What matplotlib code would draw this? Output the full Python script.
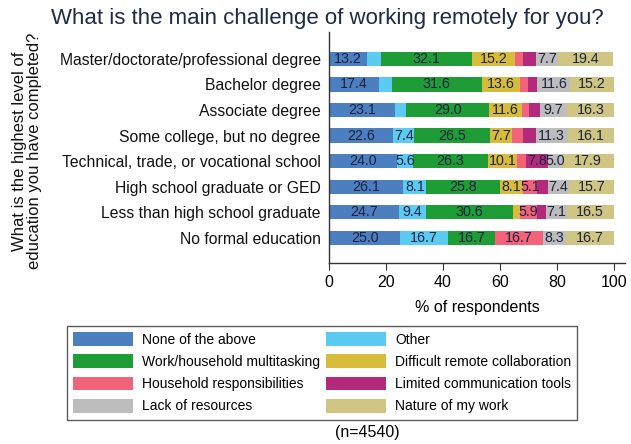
import numpy as np
import matplotlib
matplotlib.use('Agg')
import matplotlib.pyplot as plt
from matplotlib.patches import Patch

plt.rcParams['font.family'] = ['Liberation Sans', 'DejaVu Sans']

# ---- data ----
education = [
    'Master/doctorate/professional degree',
    'Bachelor degree',
    'Associate degree',
    'Some college, but no degree',
    'Technical, trade, or vocational school',
    'High school graduate or GED',
    'Less than high school graduate',
    'No formal education',
]
challenges = [
    'None of the above', 'Other', 'Work/household multitasking',
    'Difficult remote collaboration', 'Household responsibilities',
    'Limited communication tools', 'Lack of resources', 'Nature of my work',
]
none_above = [13.2, 17.4, 23.1, 22.6, 24.0, 26.1, 24.7, 25.0]
other = [4.9, 4.6, 4.1, 7.4, 5.6, 8.1, 9.4, 16.7]
multitask = [32.1, 31.6, 29.0, 26.5, 26.3, 25.8, 30.6, 16.7]
collab = [15.2, 13.6, 11.6, 7.7, 10.1, 8.1, 2.4, 0.0]
household = [2.8, 2.8, 2.3, 4.0, 3.3, 5.1, 5.9, 16.7]
comm_tools = [4.6, 3.2, 3.9, 4.4, 7.8, 3.7, 3.4, 0.0]
resources = [7.7, 11.6, 9.7, 11.3, 5.0, 7.4, 7.1, 8.3]
nature = [19.4, 15.2, 16.3, 16.1, 17.9, 15.7, 16.5, 16.7]

series = [none_above, other, multitask, collab, household, comm_tools,
          resources, nature]
colors = ['#4b7fc0', '#5ccbf2', '#1e9c36', '#d6bc3a', '#f2637a', '#b32a7d',
          '#bdbdbd', '#cfc683']

fig = plt.figure(figsize=(6.31, 4.44), dpi=100)
ax = fig.add_axes([0.5214, 0.4077, 0.4691, 0.5203])

ypos = np.arange(len(education))[::-1]
left = np.zeros(len(education))
for vals, col in zip(series, colors):
    vals = np.array(vals)
    ax.barh(ypos, vals, left=left, height=0.56, color=col, edgecolor='none')
    for y, l, v in zip(ypos, left, vals):
        if v >= 5:
            ax.text(l + v / 2, y, f'{v:.1f}', ha='center', va='center',
                    fontsize=10.3, color='#1c2240')
    left += vals

ax.set_xlim(0, 104)
ax.set_ylim(-0.98, 8.05)
ax.set_yticks(ypos)
ax.set_yticklabels(education, fontsize=11.3, color='#111111')
ax.set_xticks([0, 20, 40, 60, 80, 100])
ax.tick_params(axis='x', labelsize=11.5, length=5, color='#333333')
ax.tick_params(axis='y', length=0, pad=6)
for s in ['top', 'right']:
    ax.spines[s].set_visible(False)
for s in ['left', 'bottom']:
    ax.spines[s].set_color('#333333')
    ax.spines[s].set_linewidth(1.0)
ax.set_xlabel('% of respondents', fontsize=11.5, labelpad=7)

fig.text(0.5182, 0.958, 'What is the main challenge of working remotely for you?',
         ha='center', va='center', fontsize=16, color='#1f2a44')
fig.text(0.042, 0.66, 'What is the highest level of\neducation you have completed?',
         ha='center', va='center', rotation=90, fontsize=12,
         linespacing=1.0, color='#111111')

order = [0, 2, 4, 6, 1, 3, 5, 7]
handles = [Patch(facecolor=colors[i], edgecolor='none') for i in order]
labels = [challenges[i] for i in order]
leg = fig.legend(handles, labels, ncol=2, loc='upper left',
                 bbox_to_anchor=(0.106, 0.266), fontsize=10,
                 handlelength=4.3, handleheight=1.15, labelspacing=0.55,
                 handletextpad=0.65, columnspacing=0.45, borderpad=0.45,
                 fancybox=False, frameon=True, borderaxespad=0)
leg.get_frame().set_edgecolor('#333333')
leg.get_frame().set_linewidth(1.0)

fig.text(0.582, 0.027, '(n=4540)', ha='center', va='center', fontsize=11.5)

fig.savefig('out.png', dpi=100)
